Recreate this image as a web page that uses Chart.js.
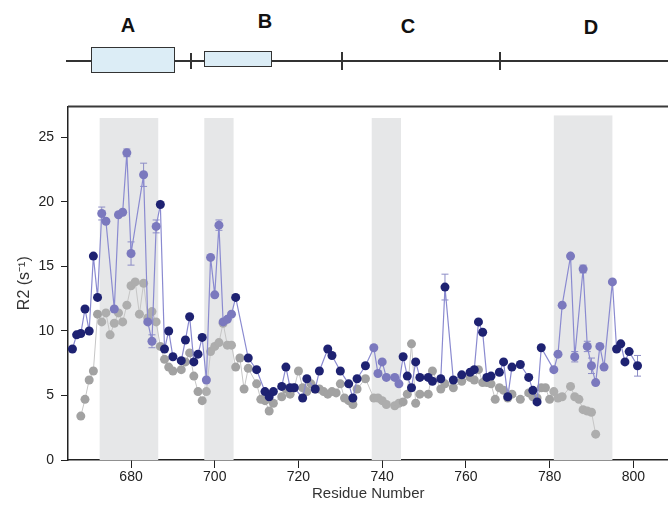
<!DOCTYPE html>
<html>
<head>
<meta charset="utf-8">
<script src="https://cdn.jsdelivr.net/npm/chart.js@4.4.0/dist/chart.umd.min.js"></script>
<style>
  html, body { margin: 0; padding: 0; background: #fff; overflow: hidden; }
  body { width: 668px; height: 506px; position: relative; font-family: "Liberation Sans", Arial, sans-serif; }
  .dline { position: absolute; background: #333; }
  .dbox { position: absolute; background: #dcedf6; border: 1.5px solid #333; box-sizing: border-box; }
  .dlab { position: absolute; font-weight: bold; font-size: 20px; color: #111; transform: translate(-50%, -50%); }
  #wrap { position: absolute; left: 0; top: 91px; width: 673px; height: 415px; }
</style>
</head>
<body>
<!-- domain diagram -->
<div class="dline" style="left:66px; top:60px; width:602px; height:1.5px;"></div>
<div class="dbox" style="left:91px; top:47px; width:84px; height:26px;"></div>
<div class="dbox" style="left:204px; top:51px; width:68px; height:16px;"></div>
<div class="dline" style="left:190px; top:53px; width:1.5px; height:16px;"></div>
<div class="dline" style="left:341px; top:52px; width:1.5px; height:18px;"></div>
<div class="dline" style="left:499px; top:52px; width:1.5px; height:18px;"></div>
<div class="dlab" style="left:128px; top:25px;">A</div>
<div class="dlab" style="left:265px; top:21px;">B</div>
<div class="dlab" style="left:408px; top:26px;">C</div>
<div class="dlab" style="left:591px; top:27px;">D</div>

<div id="wrap"><canvas id="r2Chart"></canvas></div>

<script>
// 残基与R2值
const blueResidues = [666, 667, 668, 669, 670, 671, 672, 673, 674, 676, 677, 678, 679, 680, 683, 684, 685, 686, 687, 688,
    689, 690, 692, 693, 694, 695, 696, 697, 698, 699, 700, 701, 702, 703, 704, 705, 708, 710, 712, 713,
    714, 716, 717, 718, 719, 721, 722, 724, 725, 727, 728, 730, 732, 733, 734, 736, 738, 739, 740, 741,
    743, 744, 745, 746, 747, 748, 749, 751, 752, 754, 755, 757, 759, 761, 762, 763, 764, 765, 766, 768,
    769, 770, 771, 773, 775, 776, 777, 778, 781, 782, 783, 785, 786, 788, 789, 790, 791, 792, 793, 795,
    796, 797, 798, 799, 801];
const blueR2 = [8.6, 9.7, 9.8, 11.7, 10.0, 15.8, 12.6, 19.1, 18.5, 11.7, 19.0, 19.2, 23.8, 16.0, 22.1, 10.7, 9.2, 18.1, 19.8, 8.6,
    10.0, 8.0, 7.7, 9.3, 11.1, 7.6, 8.2, 9.5, 6.2, 15.7, 12.8, 18.2, 10.7, 10.9, 11.3, 12.6, 7.9, 7.0, 5.3, 4.9,
    5.3, 5.7, 7.2, 5.6, 5.6, 4.8, 6.3, 5.5, 6.9, 8.6, 8.1, 6.9, 5.9, 4.8, 6.3, 7.3, 8.7, 6.7, 7.6, 6.4,
    6.4, 5.9, 8.0, 6.5, 5.6, 7.6, 6.4, 6.4, 6.1, 6.3, 13.4, 6.2, 6.6, 6.8, 7.0, 10.7, 9.9, 6.4, 6.5, 6.8,
    7.6, 4.9, 7.2, 7.4, 6.4, 5.4, 4.5, 8.7, 7.0, 8.2, 12.0, 15.8, 8.0, 14.8, 8.8, 7.3, 6.0, 8.8, 7.2, 13.8,
    8.6, 9.0, 7.6, 8.4, 7.3];

const grayResidues = [668, 669, 670, 671, 672, 673, 674, 675, 676, 677, 678, 679, 680, 681, 682, 683, 684, 685, 686, 687,
    688, 689, 690, 692, 693, 694, 695, 696, 697, 698, 699, 700, 701, 702, 703, 704, 705, 706, 707, 708,
    710, 711, 712, 713, 714, 716, 717, 718, 719, 720, 721, 722, 723, 724, 725, 726, 727, 728, 729, 730,
    731, 732, 733, 734, 736, 738, 739, 740, 741, 743, 744, 745, 746, 747, 748, 749, 751, 752, 754, 755,
    757, 759, 761, 762, 763, 764, 765, 766, 767, 768, 769, 770, 771, 773, 775, 776, 777, 778, 779, 780,
    781, 782, 783, 785, 786, 787, 788, 789, 790, 791];
const grayR2 = [3.4, 4.7, 6.2, 6.9, 11.3, 10.7, 11.4, 9.7, 10.6, 11.4, 10.7, 12.0, 13.5, 13.8, 11.3, 13.7, 11.0, 11.5, 10.7, 8.8,
    7.8, 7.2, 6.9, 7.0, 7.6, 8.3, 6.5, 5.3, 4.6, 5.3, 8.4, 8.8, 9.1, 10.6, 8.9, 8.9, 7.2, 7.9, 5.5, 7.1,
    5.9, 4.7, 4.6, 3.8, 4.4, 4.9, 5.5, 5.1, 5.6, 6.9, 5.6, 5.3, 5.9, 5.5, 5.5, 5.3, 5.1, 5.3, 5.2, 5.9,
    4.8, 4.6, 4.3, 5.5, 6.3, 4.8, 4.8, 4.6, 4.3, 4.2, 4.4, 4.5, 5.1, 9.0, 4.4, 5.1, 5.1, 6.9, 5.5, 5.9,
    5.6, 6.1, 6.4, 6.2, 7.0, 6.0, 6.0, 5.9, 4.7, 5.6, 5.4, 4.8, 5.1, 4.7, 5.2, 4.9, 4.8, 5.6, 5.6, 4.7,
    5.3, 4.8, 4.9, 5.7, 4.9, 4.7, 3.9, 3.8, 3.7, 2.0];

// 误差棒（蓝色系列）
const errResidues = [673, 679, 680, 683, 685, 686, 701, 755, 786, 788, 789, 790, 801];
const errValues = [0.5, 0.3, 0.9, 0.9, 0.5, 0.5, 0.4, 1.0, 0.4, 0.3, 0.4, 0.6, 0.8];

// 灰色阴影区域（残基范围）
const shadeStart = [672.5, 697.5, 737.5, 781.0];
const shadeEnd = [686.5, 704.5, 744.5, 795.0];

const xTicks = [680, 700, 720, 740, 760, 780, 800];
const yTicks = [0, 5, 10, 15, 20, 25];

function inShade(x) {
    for (let i = 0; i < shadeStart.length; i++) {
        if (x >= shadeStart[i] && x <= shadeEnd[i]) return true;
    }
    return false;
}

// 背景阴影 + 误差棒 + 上边框
const decorPlugin = {
    id: 'decor',
    beforeDatasetsDraw(chart) {
        const { ctx, chartArea, scales } = chart;
        ctx.save();
        ctx.fillStyle = '#e6e7e8';
        shadeStart.forEach((s, i) => {
            const x0 = scales.x.getPixelForValue(s);
            const x1 = scales.x.getPixelForValue(shadeEnd[i]);
            const top = scales.y.getPixelForValue(i === 3 ? 26.7 : 26.5);
            ctx.fillRect(x0, top, x1 - x0, chartArea.bottom - top);
        });
        // 误差棒
        ctx.strokeStyle = '#8c8cc6';
        ctx.lineWidth = 1;
        errResidues.forEach((r, i) => {
            const idx = blueResidues.indexOf(r);
            if (idx < 0) return;
            const v = blueR2[idx];
            const px = scales.x.getPixelForValue(r);
            const yt = scales.y.getPixelForValue(v + errValues[i]);
            const yb = scales.y.getPixelForValue(v - errValues[i]);
            ctx.beginPath();
            ctx.moveTo(px, yt); ctx.lineTo(px, yb);
            ctx.moveTo(px - 3.5, yt); ctx.lineTo(px + 3.5, yt);
            ctx.moveTo(px - 3.5, yb); ctx.lineTo(px + 3.5, yb);
            ctx.stroke();
        });
        ctx.restore();
    },
    afterDraw(chart) {
        const { ctx, chartArea } = chart;
        ctx.save();
        ctx.strokeStyle = '#3a3a3a';
        ctx.lineWidth = 2;
        ctx.beginPath();
        ctx.moveTo(chartArea.left, chartArea.top);
        ctx.lineTo(chartArea.right, chartArea.top);
        ctx.stroke();
        ctx.restore();
    }
};

document.addEventListener('DOMContentLoaded', function() {
    const ctx = document.getElementById('r2Chart').getContext('2d');
    new Chart(ctx, {
        type: 'line',
        data: {
            datasets: [{
                label: 'blue',
                data: blueResidues.map((r, i) => ({ x: r, y: blueR2[i] })),
                borderColor: '#8a8ad0',
                borderWidth: 1.2,
                pointRadius: 4.5,
                pointBorderWidth: 0,
                pointBackgroundColor: c => inShade(c.raw.x) ? '#7b79be' : '#1e2272',
                fill: false,
                order: 0
            }, {
                label: 'gray',
                data: grayResidues.map((r, i) => ({ x: r, y: grayR2[i] })),
                borderColor: '#c6c6c6',
                borderWidth: 1,
                pointRadius: 4.5,
                pointBorderWidth: 0,
                pointBackgroundColor: c => inShade(c.raw.x) ? '#adadad' : '#a2a2a2',
                fill: false,
                order: 1
            }]
        },
        options: {
            responsive: true,
            maintainAspectRatio: false,
            animation: false,
            layout: { padding: 0 },
            plugins: {
                legend: { display: false },
                tooltip: { enabled: false }
            },
            scales: {
                x: {
                    type: 'linear',
                    min: 664.94,
                    max: 808.4,
                    afterFit: s => { s.height = 46; },
                    afterBuildTicks: s => { s.ticks = xTicks.map(v => ({ value: v })); },
                    ticks: { font: { family: 'Liberation Sans', size: 14 }, color: '#222', padding: 1, maxRotation: 0 },
                    grid: { drawOnChartArea: false, tickLength: 8, color: '#222', tickColor: '#222' },
                    border: { color: '#222', width: 1.5 },
                    title: { display: true, text: 'Residue Number', font: { family: 'Liberation Sans', size: 15 }, color: '#333', padding: { top: 0, bottom: 3 } }
                },
                y: {
                    min: 0,
                    max: 27.4,
                    afterFit: s => { s.width = 68; },
                    afterBuildTicks: s => { s.ticks = yTicks.map(v => ({ value: v })); },
                    ticks: { font: { family: 'Liberation Sans', size: 14 }, color: '#222', padding: 7 },
                    grid: { drawOnChartArea: false, tickLength: 7, color: '#222', tickColor: '#222' },
                    border: { color: '#222', width: 1.5 },
                    title: { display: true, text: 'R2 (s\u207B\u00B9)', font: { family: 'Liberation Sans', size: 16 }, color: '#333', padding: { top: 15, bottom: 0 } }
                }
            }
        },
        plugins: [decorPlugin]
    });
});
</script>
</body>
</html>
